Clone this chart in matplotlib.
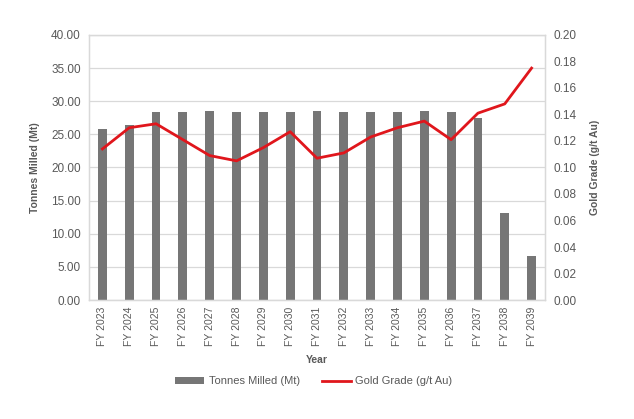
import numpy as np
import matplotlib
matplotlib.use("Agg")
import matplotlib.pyplot as plt

years = ["FY 2023", "FY 2024", "FY 2025", "FY 2026", "FY 2027", "FY 2028", "FY 2029",
         "FY 2030", "FY 2031", "FY 2032", "FY 2033", "FY 2034", "FY 2035", "FY 2036",
         "FY 2037", "FY 2038", "FY 2039"]
tonnes_milled = [25.8, 26.4, 28.4, 28.4, 28.6, 28.4, 28.4, 28.4, 28.6, 28.4, 28.4,
                 28.4, 28.6, 28.4, 27.5, 13.2, 6.6]
gold_grade = [0.114, 0.130, 0.133, 0.121, 0.109, 0.105, 0.115, 0.127, 0.107, 0.111,
              0.123, 0.130, 0.135, 0.121, 0.141, 0.148, 0.175]

plt.rcParams['font.family'] = ['Liberation Sans', 'DejaVu Sans']
text_col = '#595959'
grid_col = '#d9d9d9'


def createPlot():
    fig = plt.figure(figsize=(6.34, 4.19), dpi=100)
    ax = fig.add_axes([0.1404, 0.284, 0.7192, 0.6325])
    x = np.arange(len(years))

    bars = ax.bar(x, tonnes_milled, width=0.33, color='#767676', zorder=2,
                  label='Tonnes Milled (Mt)')
    ax.set_ylim(0, 40)
    ax.set_yticks(np.arange(0, 40.1, 5))
    ax.set_yticklabels(["%.2f" % v for v in np.arange(0, 40.1, 5)])
    ax.set_xlim(-0.5, len(years) - 0.5)
    ax.set_xticks(x)
    ax.set_xticklabels(years, rotation=90)
    ax.grid(axis='y', color=grid_col, linewidth=0.9, zorder=0)
    ax.set_axisbelow(True)

    ax2 = ax.twinx()
    line, = ax2.plot(x, gold_grade, color='#e0161c', linewidth=2, zorder=3,
                     label='Gold Grade (g/t Au)')
    ax2.set_ylim(0, 0.2)
    ax2.set_yticks(np.arange(0, 0.201, 0.02))
    ax2.set_yticklabels(["%.2f" % v for v in np.arange(0, 0.201, 0.02)])

    for a in (ax, ax2):
        a.tick_params(length=0, labelsize=8.5, colors=text_col, pad=6)
        for s in a.spines.values():
            s.set_color(grid_col)
            s.set_linewidth(0.9)
    ax.tick_params(axis='x', pad=5, labelsize=7.5)

    ax.set_ylabel("Tonnes Milled (Mt)", fontsize=7.5, fontweight='bold', color=text_col,
                  labelpad=8)
    ax2.set_ylabel("Gold Grade (g/t Au)", fontsize=7.5, fontweight='bold', color=text_col,
                   labelpad=10)
    ax.set_xlabel("Year", fontsize=7.5, fontweight='bold', color=text_col, labelpad=6)

    fig.legend([bars, line], ['Tonnes Milled (Mt)', 'Gold Grade (g/t Au)'],
               loc='center', bbox_to_anchor=(0.495, 0.09), ncol=2, frameon=False,
               fontsize=8, labelcolor=text_col, handlelength=2.6, handleheight=0.5,
               columnspacing=2.0, handletextpad=0.4)

    fig.savefig("out.png", dpi=100)


def main():
    createPlot()


if __name__ == "__main__":
    main()
